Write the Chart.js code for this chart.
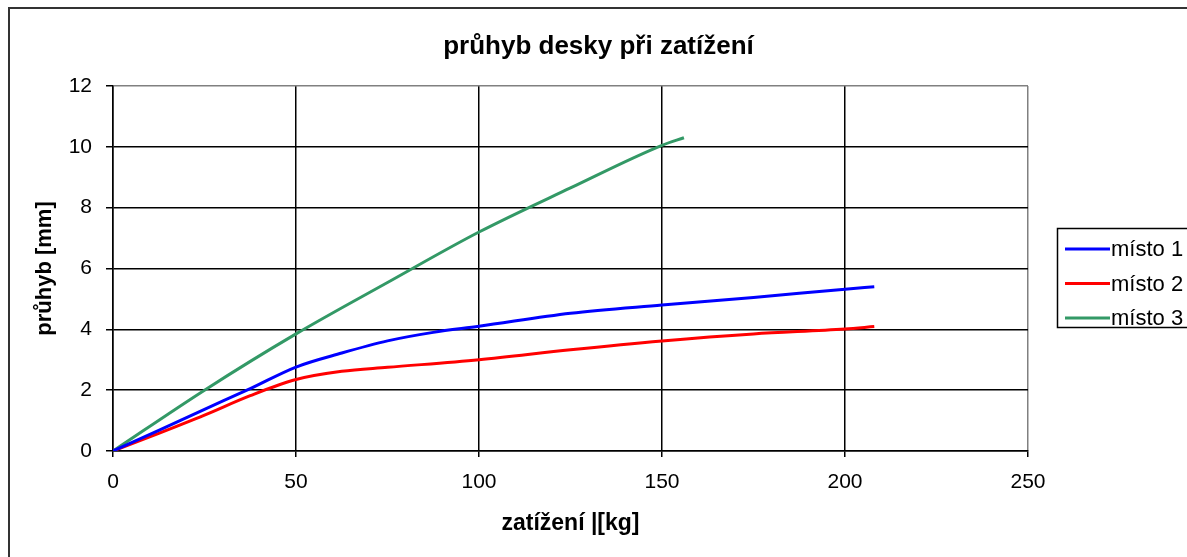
<!DOCTYPE html>
<html><head><meta charset="utf-8">
<script src="https://cdn.jsdelivr.net/npm/chart.js@4.4.0/dist/chart.umd.min.js"></script>
<style>html,body{margin:0;padding:0;background:#fff;overflow:hidden}</style>
</head><body>
<canvas id="c" width="1187" height="557" style="display:block;width:1187px;height:557px"></canvas>
<script>
const chartTitle = 'průhyb desky při zatížení';
const xTitle = 'zatížení |[kg]';
const yTitle = 'průhyb [mm]';
const seriesNames = ['místo 1', 'místo 2', 'místo 3'];
const seriesColors = ['#0000ff', '#ff0000', '#339966'];

const loads1 = [0, 12.5, 25, 37.5, 50, 62.5, 75, 87.5, 100, 125, 150, 175, 200, 208];
const defl1  = [0, 0.68, 1.37, 2.05, 2.76, 3.22, 3.62, 3.9, 4.1, 4.53, 4.8, 5.05, 5.32, 5.4];
const loads2 = [0, 12.5, 25, 37.5, 50, 62.5, 75, 100, 125, 150, 175, 200, 208];
const defl2  = [0, 0.58, 1.18, 1.82, 2.35, 2.62, 2.75, 3.0, 3.33, 3.62, 3.85, 4.01, 4.09];
const loads3 = [0, 25, 50, 75, 100, 125, 150, 156];
const defl3  = [0, 2.0, 3.85, 5.54, 7.2, 8.65, 10.05, 10.3];

const xTicks = [0, 50, 100, 150, 200, 250];
const yTicks = [0, 2, 4, 6, 8, 10, 12];

const pairs = (xs, ys) => xs.map((x, i) => ({x: x, y: ys[i]}));
const allLoads = [loads1, loads2, loads3];
const allDefl = [defl1, defl2, defl3];

const FONT = '"Liberation Sans", Arial, sans-serif';

const decor = {
  id: 'decor',
  beforeDraw(chart) {
    const ctx = chart.ctx;
    ctx.save();
    ctx.fillStyle = '#fff';
    ctx.fillRect(0, 0, chart.width, chart.height);
    ctx.restore();
  },
  afterDraw(chart) {
    const ctx = chart.ctx;
    ctx.save();
    ctx.strokeStyle = '#333';
    ctx.lineWidth = 2;
    ctx.strokeRect(9, 8, 1300, 700);
    ctx.strokeStyle = '#000';
    ctx.lineWidth = 1.5;
    ctx.strokeRect(1057.5, 228.5, 200, 99);
    chart.data.datasets.forEach((ds, i) => {
      const y = 249 + i * 34.5;
      ctx.strokeStyle = ds.borderColor;
      ctx.lineWidth = 3;
      ctx.beginPath();
      ctx.moveTo(1065, y);
      ctx.lineTo(1110, y);
      ctx.stroke();
      ctx.fillStyle = '#000';
      ctx.font = '22px ' + FONT;
      ctx.textBaseline = 'middle';
      ctx.textAlign = 'left';
      ctx.fillText(ds.label, 1111, y + 1);
    });
    ctx.restore();
  }
};

new Chart(document.getElementById('c'), {
  type: 'scatter',
  data: {
    datasets: seriesNames.map((name, i) => ({
      label: name,
      data: pairs(allLoads[i], allDefl[i]),
      showLine: true,
      borderColor: seriesColors[i],
      backgroundColor: seriesColors[i],
      borderWidth: 3,
      pointRadius: 0,
      pointHoverRadius: 0,
      cubicInterpolationMode: 'monotone',
      fill: false
    }))
  },
  options: {
    responsive: false,
    animation: false,
    devicePixelRatio: 1,
    layout: {padding: {left: 10, top: 0, right: 0, bottom: 0}},
    plugins: {
      legend: {display: false},
      tooltip: {enabled: false},
      title: {
        display: true,
        text: chartTitle,
        color: '#000',
        font: {family: FONT, size: 26, weight: 'bold', lineHeight: 1.2},
        padding: {top: 31.4, bottom: 23.4}
      }
    },
    scales: {
      x: {
        type: 'linear',
        min: 0, max: 250,
        afterBuildTicks: s => { s.ticks = xTicks.map(v => ({value: v})); },
        afterFit: s => { s.height = 106; },
        ticks: {color: '#000', font: {family: FONT, size: 21}, padding: 13, maxRotation: 0},
        grid: {
          color: c => (c.tick && c.tick.value === 250) ? '#808080' : '#000',
          tickColor: '#000',
          lineWidth: 1.5,
          tickLength: 6
        },
        border: {color: '#000', width: 1.5},
        title: {display: true, text: xTitle, color: '#000',
          font: {family: FONT, size: 23, weight: 'bold', lineHeight: 1.2},
          padding: {top: 0, bottom: 19.2}}
      },
      y: {
        type: 'linear',
        min: 0, max: 12,
        afterBuildTicks: s => { s.ticks = yTicks.map(v => ({value: v})); },
        afterFit: s => { s.width = 103; },
        ticks: {color: '#000', font: {family: FONT, size: 21}, padding: 14},
        grid: {
          color: c => (c.tick && c.tick.value === 12) ? '#808080' : '#000',
          tickColor: '#000',
          lineWidth: 1.5,
          tickLength: 7
        },
        border: {color: '#000', width: 1.5},
        title: {display: true, text: yTitle, color: '#000',
          font: {family: FONT, size: 22, weight: 'bold', lineHeight: 1.2},
          padding: {top: 21.8, bottom: 0}}
      },
      yPad: {
        type: 'linear',
        position: 'right',
        display: true,
        min: 0, max: 1,
        afterFit: s => { s.width = 159; },
        ticks: {display: false},
        grid: {display: false, drawTicks: false},
        border: {display: false},
        title: {display: false}
      }
    }
  },
  plugins: [decor]
});
</script>
</body></html>
